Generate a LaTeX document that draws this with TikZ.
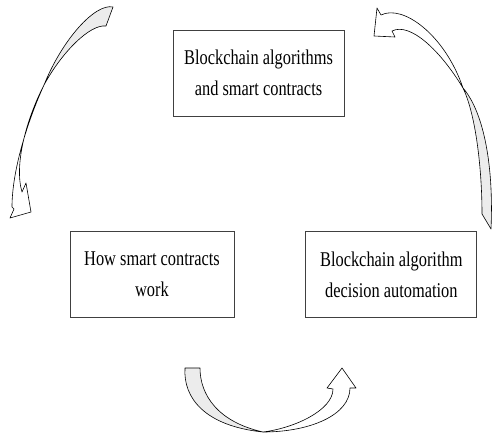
\documentclass[tikz,border=0pt]{standalone}
\usepackage{fontspec}
\setmainfont[FakeStretch=0.78]{Liberation Serif}
\usetikzlibrary{positioning}

\begin{document}
\begin{tikzpicture}[x=1pt, y=-1pt,
    box/.style={draw=black!75, line width=0.8pt, minimum width=171pt, minimum height=86pt,
                align=center, font=\fontsize{21}{31}\selectfont},
    back/.style={draw, line width=0.6pt, fill=gray!15, line join=round},
    front/.style={draw, line width=0.6pt, fill=white, line join=round}]
    \useasboundingbox (0,0) rectangle (493,436);
    \node[box] (algo) at (258.5,73) {Blockchain algorithms\\and smart contracts};
    \node[box, minimum width=164pt] (how) at (152,274.5) {How smart contracts\\work};
    \node[box, right=71pt of how] (auto) {Blockchain algorithm\\decision automation};
    % left arrow
    \coordinate (twist1) at (44,85);
    \draw[back] (113,7) .. controls (95,3) and (62,40) .. (twist1)
        .. controls (62,52) and (90,24) .. (106,26) -- cycle;
    \draw[front] (twist1) .. controls (28,120) and (12,170) .. (12,207) -- (14,209) -- (10,218)
        -- (31,212) -- (26,183) -- (22,192) .. controls (14,165) and (26,120) .. (twist1) -- cycle;
    % right arrow
    \coordinate (twist2) at (463,88);
    \draw[front] (377,8) -- (381,15) .. controls (403,4) and (445,35) .. (twist2)
        .. controls (440,50) and (410,22) .. (392,31) -- (395,37) -- (374,36) -- cycle;
    \draw[back] (twist2) .. controls (476,115) and (482,170) .. (482,214) -- (491,229)
        .. controls (494,160) and (482,110) .. (twist2) -- cycle;
    % bottom arrow
    \coordinate (twist3) at (263,432);
    \draw[back] (185,368) .. controls (183,398) and (205,426) .. (twist3)
        .. controls (218,422) and (200,395) .. (200,368) -- cycle;
    \draw[front] (twist3) .. controls (310,432) and (350,415) .. (350,388) -- (356,388) -- (342,368)
        -- (327,388) -- (333,389) .. controls (333,410) and (295,428) .. (twist3) -- cycle;
\end{tikzpicture}
\end{document}
